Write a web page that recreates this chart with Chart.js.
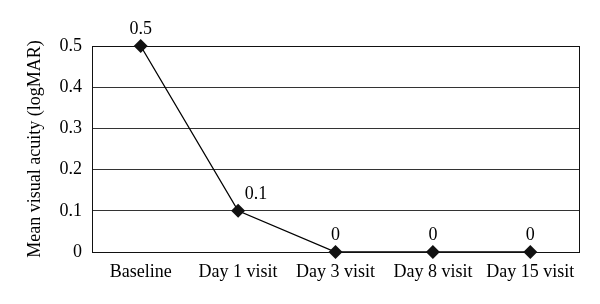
<!DOCTYPE html>
<html>
<head>
<meta charset="utf-8">
<script src="https://cdn.jsdelivr.net/npm/chart.js@4.4.0/dist/chart.umd.min.js"></script>
<style>
  html,body{margin:0;padding:0;background:#fff;}
  #wrap{width:600px;height:304px;}
</style>
</head>
<body>
<div id="wrap"><canvas id="c" width="600" height="304"></canvas></div>
<script>
const categories = ["Baseline", "Day 1 visit", "Day 3 visit", "Day 8 visit", "Day 15 visit"];
const acuity = [0.5, 0.1, 0, 0, 0];
const pointLabels = ["0.5", "0.1", "0", "0", "0"];
const yTicks = [0, 0.1, 0.2, 0.3, 0.4, 0.5];

const FONT = "'Liberation Serif', 'DejaVu Serif', serif";
const FS = 18;

const frame = {
  id: 'frame',
  afterDatasetsDraw(chart) {
    const {ctx, chartArea: a} = chart;
    ctx.save();
    ctx.strokeStyle = '#111';
    ctx.lineWidth = 1;
    ctx.strokeRect(Math.round(a.left) + 0.5, Math.round(a.top) + 0.5,
                   Math.round(a.right - a.left), Math.round(a.bottom - a.top));
    ctx.restore();
  }
};

const valueLabels = {
  id: 'valueLabels',
  afterDraw(chart) {
    const {ctx} = chart;
    const meta = chart.getDatasetMeta(0);
    ctx.save();
    ctx.font = FS + "px " + FONT;
    ctx.fillStyle = '#000';
    ctx.textAlign = 'center';
    ctx.textBaseline = 'bottom';
    meta.data.forEach((pt, i) => {
      const prev = i > 0 ? acuity[i - 1] : null;
      // shift label right when the incoming segment descends steeply onto it
      const dx = (prev !== null && prev - acuity[i] > 0.2) ? 18 : 0;
      ctx.fillText(pointLabels[i], pt.x + dx, pt.y - 8);
    });
    ctx.restore();
  }
};

new Chart(document.getElementById('c'), {
  type: 'line',
  data: {
    labels: categories,
    datasets: [{
      data: acuity,
      borderColor: '#000',
      borderWidth: 1.3,
      backgroundColor: '#111',
      pointStyle: 'rectRot',
      pointRadius: 7,
      pointBorderWidth: 0,
      pointBackgroundColor: '#111',
      tension: 0,
      clip: false
    }]
  },
  options: {
    responsive: false,
    animation: false,
    layout: { padding: { top: 46, right: 21, bottom: 0, left: 0 } },
    plugins: { legend: { display: false }, tooltip: { enabled: false } },
    scales: {
      x: {
        offset: true,
        grid: { display: false, drawTicks: false },
        border: { display: false },
        ticks: { color: '#000', font: { family: FONT, size: FS }, padding: 9, maxRotation: 0 },
        afterFit(s) { s.height = 52; }
      },
      y: {
        min: 0, max: 0.5,
        afterBuildTicks(s) { s.ticks = yTicks.map(v => ({ value: v })); },
        grid: { color: '#333', lineWidth: 1, drawTicks: false },
        border: { display: false },
        ticks: {
          color: '#000', font: { family: FONT, size: FS }, padding: 10,
          callback: v => (v === 0 ? '0' : v.toFixed(1))
        },
        title: {
          display: true, text: 'Mean visual acuity (logMAR)', color: '#000',
          font: { family: FONT, size: FS }, padding: { top: 24, bottom: 0 }
        },
        afterFit(s) { s.width = 92; }
      }
    }
  },
  plugins: [frame, valueLabels]
});
</script>
</body>
</html>
